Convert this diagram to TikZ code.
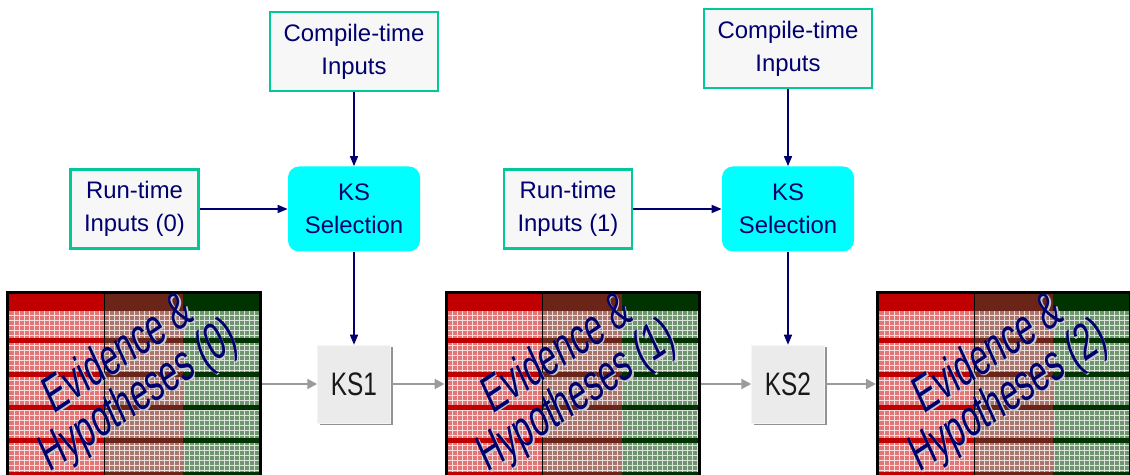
\documentclass[tikz,border=0pt]{standalone}
\usepackage{fontspec}
\setmainfont{Liberation Sans}
\newfontfamily\ksfont{Liberation Sans}[FakeStretch=0.75]
\newfontfamily\boardfont{Liberation Sans}[FakeStretch=0.73]
\usepackage{tikz}
\usetikzlibrary{arrows.meta}
\usetikzlibrary{shadows}

\definecolor{inknavy}{RGB}{0,0,110}
\definecolor{boxgreen}{RGB}{0,200,150}
\definecolor{boxfill}{RGB}{247,247,247}
\definecolor{selcyan}{RGB}{0,255,255}
\definecolor{ksgray}{RGB}{235,235,235}
\definecolor{linkgray}{RGB}{155,155,155}
\definecolor{hotred}{RGB}{192,0,0}
\definecolor{hotbrown}{RGB}{107,36,24}
\definecolor{hotgreen}{RGB}{0,51,0}
\definecolor{softred}{RGB}{226,118,118}
\definecolor{softbrown}{RGB}{168,118,108}
\definecolor{softgreen}{RGB}{112,148,112}

\tikzset{
  inputbox/.style={draw=boxgreen, line width=0.05cm, fill=boxfill, inner sep=0pt,
    align=center, text=inknavy, font=\fontsize{13.6}{18.7}\selectfont},
  selbox/.style={fill=selcyan, rounded corners=0.22cm, inner sep=0pt,
    minimum width=2.64cm, minimum height=1.70cm,
    align=center, text=inknavy, font=\fontsize{13.6}{18.7}\selectfont},
  ksbox/.style={fill=ksgray, draw=white!92!gray, line width=0.01cm, inner sep=0pt,
    minimum width=1.46cm, minimum height=1.56cm,
    drop shadow={shadow xshift=0.04cm, shadow yshift=-0.04cm, fill=gray!85, opacity=1},
    text=black!90, font=\ksfont\fontsize{18.5}{20}\selectfont},
  board/.style={draw=black, line width=0.06cm, inner sep=0pt,
    minimum width=5.06cm, minimum height=4.15cm},
  boardtext/.style={align=center, text=inknavy, inner sep=0pt, transform shape,
    font=\boardfont\fontsize{25}{23}\selectfont},
  boardshade/.style={boardtext, text=black!22},
  gridline/.style={white, line width=0.011cm, opacity=0.75, step=0.1},
  feed/.style={draw=inknavy, line width=0.03cm, -{Triangle[length=0.2cm,width=0.16cm]}},
  link/.style={draw=linkgray, line width=0.04cm, -{Triangle[length=0.2cm,width=0.2cm]}}
}

\begin{document}
\begin{tikzpicture}
  \useasboundingbox (0,0) rectangle (22.6,9.5);

  % Drawing the three blackboards
  \foreach \bx/\bn in {2.68/0, 11.45/1, 20.08/2}{
    \begin{scope}[xshift=\bx cm]
      \fill[softred] (-2.50,-0.2) rectangle (-0.60,3.62);
      \fill[softbrown] (-0.60,-0.2) rectangle (0.98,3.62);
      \fill[softgreen] (0.98,-0.2) rectangle (2.50,3.62);
      \draw[gridline] (-2.50,-0.2) grid (2.50,3.28);
      \fill[hotred] (-2.50,3.28) rectangle (-0.60,3.62);
      \fill[hotbrown] (-0.60,3.28) rectangle (0.98,3.62);
      \fill[hotgreen] (0.98,3.28) rectangle (2.50,3.62);
      \foreach \k in {0,...,4}{
        \fill[hotred] (-2.50,{2.73-0.666*\k}) rectangle (-0.60,{2.63-0.666*\k});
        \fill[hotbrown] (-0.60,{2.73-0.666*\k}) rectangle (0.98,{2.63-0.666*\k});
        \fill[hotgreen] (0.98,{2.73-0.666*\k}) rectangle (2.50,{2.63-0.666*\k});
      }
      \draw[black, line width=0.02cm] (-0.60,-0.2) -- (-0.60,3.62);
    \end{scope}
    \node[board] (board\bn) at (\bx,1.575) {};
    % slanted label, stretched upright after turning
    \begin{scope}[shift={(\bx-0.10,1.97)}, yscale=1.2, rotate=29]
      \node[boardshade] (shade\bn) at (0.015,-0.036) {Evidence \&\\Hypotheses (\bn)};
      \node[boardtext] (label\bn) at (0,0) {Evidence \&\\Hypotheses (\bn)};
    \end{scope}
  }

  % Marking the input boxes
  \node[inputbox, minimum width=3.36cm, minimum height=1.58cm] (compile1) at (7.08,8.47) {Compile-time\\Inputs};
  \node[inputbox, minimum width=3.36cm, minimum height=1.58cm] (compile2) at (15.76,8.53) {Compile-time\\Inputs};
  \node[inputbox, minimum width=2.56cm, minimum height=1.58cm] (run0) at (2.69,5.32) {Run-time\\Inputs (0)};
  \node[inputbox, minimum width=2.56cm, minimum height=1.58cm] (run1) at (11.36,5.32) {Run-time\\Inputs (1)};

  % Marking the selection boxes
  \node[selbox] (select1) at (7.08,5.32) {KS\\Selection};
  \node[selbox] (select2) at (15.76,5.32) {KS\\Selection};

  % Marking the knowledge sources
  \node[ksbox] (ks1) at (7.08,1.82) {KS1};
  \node[ksbox] (ks2) at (15.76,1.82) {KS2};

  % Drawing the control arrows
  \draw[feed] (compile1) -- (select1);
  \draw[feed] (run0) -- (select1);
  \draw[feed] (select1) -- (ks1);
  \draw[feed] (compile2) -- (select2);
  \draw[feed] (run1) -- (select2);
  \draw[feed] (select2) -- (ks2);

  % Drawing the data arrows
  \draw[link] (board0.east |- ks1.west) -- (ks1.west);
  \draw[link] (ks1.east) -- (ks1.east -| board1.west);
  \draw[link] (board1.east |- ks2.west) -- (ks2.west);
  \draw[link] (ks2.east) -- (ks2.east -| board2.west);
\end{tikzpicture}
\end{document}
